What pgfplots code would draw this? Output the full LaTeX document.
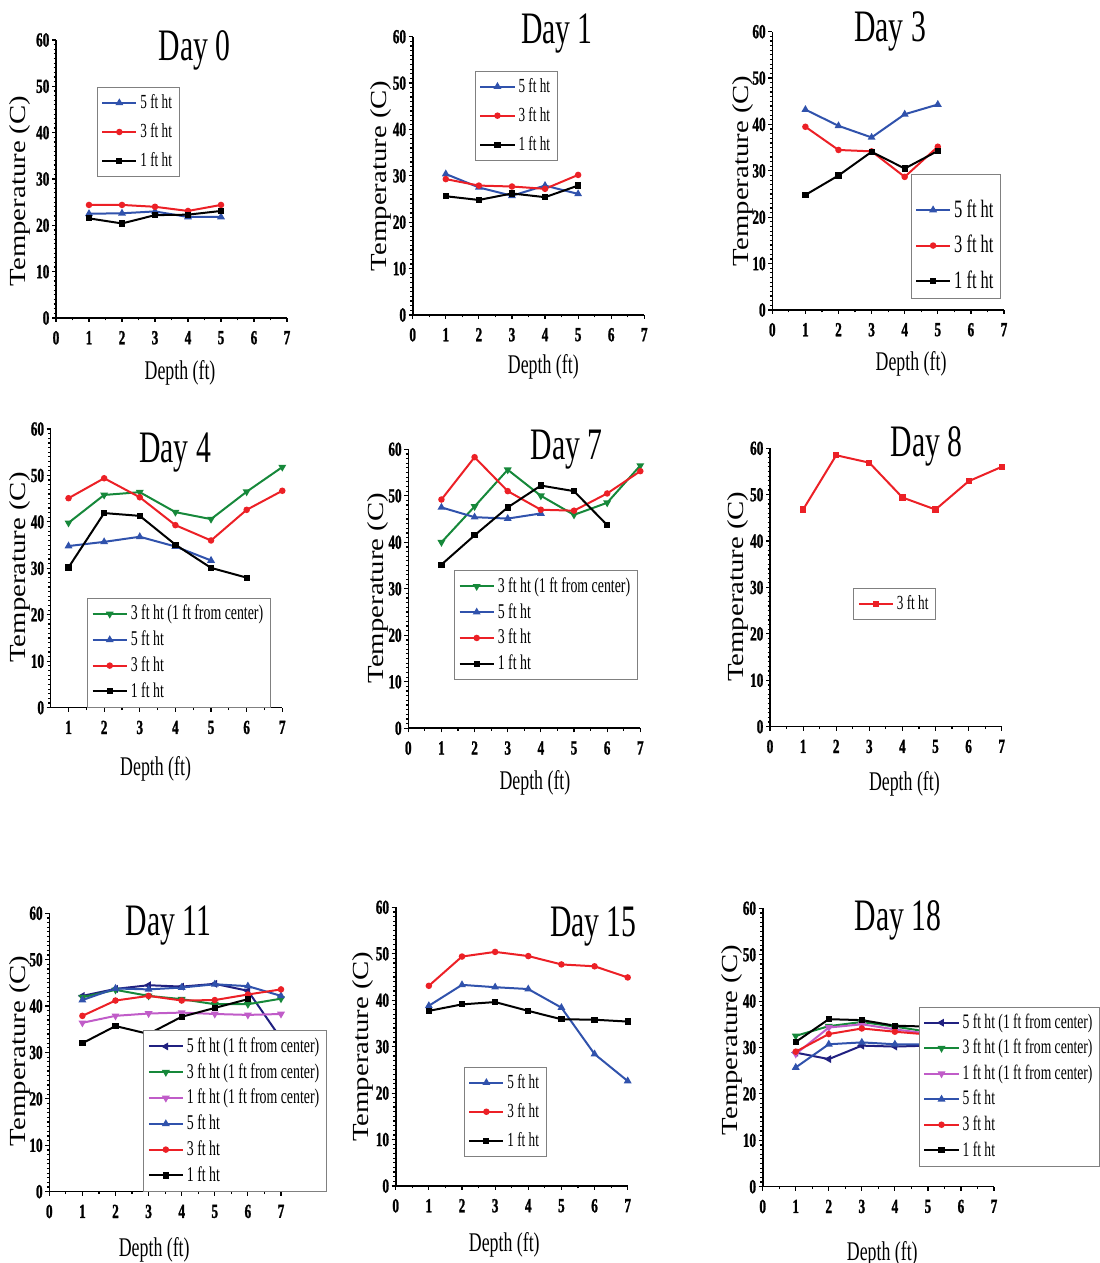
\documentclass[border=0pt]{standalone}
\usepackage{fontspec}
\setmainfont{Liberation Serif}
\newfontfamily\cond{Liberation Serif}[FakeStretch=0.66]
\newfontfamily\tickf{Liberation Serif Bold}[FakeStretch=0.66, FakeBold=1.2]
\newfontfamily\wide{Liberation Serif}[FakeStretch=1.25]
\usepackage{pgfplots}
\pgfplotsset{compat=1.18}
\definecolor{cblue}{RGB}{48,82,172}
\definecolor{cred}{RGB}{236,32,38}
\definecolor{cgreen}{RGB}{22,136,58}
\definecolor{cnavy}{RGB}{32,32,128}
\definecolor{cmag}{RGB}{192,92,200}
\pgfplotsset{
  panel/.style={
    scale only axis, clip=false,
    axis lines=left, axis line style={-, line width=0.8pt},
    xmin=0, xmax=7, ymin=0, ymax=60,
    xtick={0,...,7}, ytick={0,10,...,60},
    minor x tick num=1, minor y tick num=9,
    tick align=outside, major tick length=2pt, minor tick length=1.2pt,
    tick style={black, line width=0.6pt},
    ticklabel style={font=\tickf\fontsize{10}{10}\selectfont},
    xticklabel style={yshift=-1pt},
    yticklabel style={xshift=2.2pt},
    /pgf/number format/assume math mode=true,
    xlabel={Depth (ft)}, ylabel={Temperature (C)},
    xlabel style={font=\cond\fontsize{13.5}{14}\selectfont, anchor=north, inner sep=0pt},
    ylabel style={font=\wide\fontsize{11.5}{12}\selectfont, anchor=center, inner sep=0pt},
    legend cell align=left,
    legend style={draw=gray, line width=0.4pt, inner sep=2pt, row sep=1pt, nodes={inner sep=1.5pt}},
    every axis plot/.append style={line width=1pt, mark size=1.3pt},
  },
  s5/.style={cblue, mark=triangle*},
  s3/.style={cred, mark=*, mark size=1.1pt},
  s1/.style={black, mark=square*, mark size=1.05pt},
  s3c/.style={cgreen, mark=triangle*, mark options={rotate=180}},
  s5c/.style={cnavy, mark=triangle*, mark options={rotate=90}},
  s1c/.style={cmag, mark=triangle*, mark options={rotate=180}},
}
\newcommand{\ttl}[3]{\node[font=\cond\fontsize{22.5}{22.5}\selectfont, anchor=base, inner sep=0pt] at (rel axis cs:#1,#2) {#3};}
\begin{document}
\begin{tikzpicture}
\useasboundingbox (0,0) rectangle (549.5pt,631.5pt);
% ---------- Day 0
\begin{axis}[panel, at={(28pt,472.5pt)}, anchor=south west, width=115.5pt, height=139pt,
  xlabel style={at={(axis description cs:0.537,0)}, yshift=-21pt},
  ylabel style={at={(axis description cs:-0.156,0.457)}},
  legend style={at={(0.177,0.831)}, anchor=north west, row sep=3pt, font=\cond\fontsize{10}{11}\selectfont}]
\addplot[s5] coordinates {(1,22.5)(2,22.6)(3,23.0)(4,21.8)(5,21.8)}; \addlegendentry{5 ft ht}
\addplot[s3] coordinates {(1,24.4)(2,24.4)(3,24.0)(4,23.1)(5,24.4)}; \addlegendentry{3 ft ht}
\addplot[s1] coordinates {(1,21.5)(2,20.4)(3,22.2)(4,22.3)(5,23.1)}; \addlegendentry{1 ft ht}
\ttl{0.60}{0.928}{Day 0}
\end{axis}
% ---------- Day 1
\begin{axis}[panel, at={(206.35pt,474pt)}, anchor=south west, width=115.8pt, height=139.15pt,
  xlabel style={at={(axis description cs:0.564,0)}, yshift=-19.5pt},
  ylabel style={at={(axis description cs:-0.138,0.50)}},
  legend style={at={(0.269,0.878)}, anchor=north west, row sep=3pt, font=\cond\fontsize{10}{11}\selectfont}]
\addplot[s5] coordinates {(1,30.4)(2,27.5)(3,25.7)(4,27.9)(5,26.1)}; \addlegendentry{5 ft ht}
\addplot[s3] coordinates {(1,29.3)(2,27.9)(3,27.7)(4,27.2)(5,30.2)}; \addlegendentry{3 ft ht}
\addplot[s1] coordinates {(1,25.6)(2,24.8)(3,26.2)(4,25.4)(5,27.9)}; \addlegendentry{1 ft ht}
\ttl{0.623}{0.976}{Day 1}
\end{axis}
% ---------- Day 3
\begin{axis}[panel, at={(386.15pt,476.5pt)}, anchor=south west, width=115.85pt, height=139.15pt,
  xlabel style={at={(axis description cs:0.599,0)}, yshift=-20.5pt},
  ylabel style={at={(axis description cs:-0.125,0.50)}},
  legend style={at={(0.597,0.04)}, anchor=south west, font=\cond\fontsize{12.5}{13}\selectfont, row sep=4.5pt}]
\addlegendimage{empty legend}\addlegendentry{}
\addplot[s5] coordinates {(1,43.2)(2,39.7)(3,37.2)(4,42.2)(5,44.3)}; \addlegendentry{5 ft ht}
\addplot[s3] coordinates {(1,39.5)(2,34.5)(3,34.2)(4,28.7)(5,35.2)}; \addlegendentry{3 ft ht}
\addplot[s1] coordinates {(1,24.8)(2,29.0)(3,34.1)(4,30.5)(5,34.3)}; \addlegendentry{1 ft ht}
\ttl{0.508}{0.964}{Day 3}
\end{axis}
% ---------- Day 4
\begin{axis}[panel, at={(25.35pt,277.65pt)}, anchor=south west, width=115.8pt, height=139.35pt,
  xmin=0.5, xtick={1,...,7},
  xlabel style={at={(axis description cs:0.453,0)}, yshift=-24pt},
  ylabel style={at={(axis description cs:-0.133,0.503)}},
  legend style={at={(0.158,0.0)}, anchor=south west, font=\cond\fontsize{10.5}{11.5}\selectfont}]
\addplot[s3c] coordinates {(1,39.8)(2,45.8)(3,46.4)(4,42.1)(5,40.6)(6,46.5)(7,51.8)}; \addlegendentry{3 ft ht (1 ft from center)}
\addplot[s5] coordinates {(1,34.8)(2,35.7)(3,36.8)(4,34.7)(5,31.7)}; \addlegendentry{5 ft ht}
\addplot[s3] coordinates {(1,45.1)(2,49.4)(3,45.3)(4,39.3)(5,36.0)(6,42.6)(7,46.7)}; \addlegendentry{3 ft ht}
\addplot[s1] coordinates {(1,30.2)(2,41.9)(3,41.3)(4,35.1)(5,30.1)(6,28.0)}; \addlegendentry{1 ft ht}
\ttl{0.537}{0.879}{Day 4}
\end{axis}
% ---------- Day 7
\begin{axis}[panel, at={(204.15pt,267.35pt)}, anchor=south west, width=116pt, height=139.5pt,
  xlabel style={at={(axis description cs:0.546,0)}, yshift=-21pt},
  ylabel style={at={(axis description cs:-0.129,0.502)}},
  legend style={at={(0.198,0.567)}, anchor=north west, font=\cond\fontsize{10.5}{11.5}\selectfont}]
\addplot[s3c] coordinates {(1,40.0)(2,47.7)(3,55.6)(4,50.0)(5,45.9)(6,48.5)(7,56.5)}; \addlegendentry{3 ft ht (1 ft from center)}
\addplot[s5] coordinates {(1,47.5)(2,45.4)(3,45.1)(4,46.2)}; \addlegendentry{5 ft ht}
\addplot[s3] coordinates {(1,49.2)(2,58.3)(3,51.0)(4,47.0)(5,46.8)(6,50.5)(7,55.3)}; \addlegendentry{3 ft ht}
\addplot[s1] coordinates {(1,35.2)(2,41.5)(3,47.5)(4,52.2)(5,51.0)(6,43.7)}; \addlegendentry{1 ft ht}
\ttl{0.683}{0.964}{Day 7}
\end{axis}
% ---------- Day 8
\begin{axis}[panel, at={(385pt,268.15pt)}, anchor=south west, width=115.85pt, height=139.2pt,
  xlabel style={at={(axis description cs:0.58,0)}, yshift=-22pt},
  ylabel style={at={(axis description cs:-0.137,0.503)}},
  legend style={at={(0.36,0.499)}, anchor=north west, font=\cond\fontsize{10}{11}\selectfont}]
\addplot[cred, mark=square*, mark size=1.05pt] coordinates {(1,46.8)(2,58.5)(3,56.9)(4,49.4)(5,46.8)(6,52.9)(7,56.0)}; \addlegendentry{3 ft ht}
\ttl{0.676}{0.972}{Day 8}
\end{axis}
% ---------- Day 11
\begin{axis}[panel, at={(24.65pt,35.65pt)}, anchor=south west, width=115.85pt, height=139.2pt,
  xlabel style={at={(axis description cs:0.453,0)}, yshift=-22.5pt},
  ylabel style={at={(axis description cs:-0.126,0.506)}},
  legend style={at={(0.406,0.0)}, anchor=south west, font=\cond\fontsize{10.5}{11.5}\selectfont}]
\addplot[s5c] coordinates {(1,42.2)(2,43.7)(3,44.5)(4,44.2)(5,44.8)(6,43.3)(7,33.0)}; \addlegendentry{5 ft ht (1 ft from center)}
\addplot[s3c] coordinates {(1,41.9)(2,43.5)(3,42.2)(4,41.5)(5,40.4)(6,40.4)(7,41.6)}; \addlegendentry{3 ft ht (1 ft from center)}
\addplot[s1c] coordinates {(1,36.4)(2,37.9)(3,38.4)(4,38.6)(5,38.3)(6,38.1)(7,38.3)}; \addlegendentry{1 ft ht (1 ft from center)}
\addplot[s5] coordinates {(1,41.3)(2,43.8)(3,43.6)(4,44.0)(5,44.7)(6,44.3)(7,42.2)}; \addlegendentry{5 ft ht}
\addplot[s3] coordinates {(1,37.9)(2,41.2)(3,42.2)(4,41.2)(5,41.3)(6,42.5)(7,43.6)}; \addlegendentry{3 ft ht}
\addplot[s1] coordinates {(1,32.0)(2,35.7)(3,34.0)(4,37.7)(5,39.6)(6,41.5)}; \addlegendentry{1 ft ht}
\ttl{0.514}{0.922}{Day 11}
\end{axis}
% ---------- Day 15
\begin{axis}[panel, at={(197.85pt,38.5pt)}, anchor=south west, width=116pt, height=139.35pt,
  xlabel style={at={(axis description cs:0.468,0)}, yshift=-23pt},
  ylabel style={at={(axis description cs:-0.14,0.50)}},
  legend style={at={(0.294,0.428)}, anchor=north west, row sep=3pt, font=\cond\fontsize{10}{11}\selectfont}]
\addplot[s5] coordinates {(1,38.8)(2,43.3)(3,42.8)(4,42.4)(5,38.4)(6,28.4)(7,22.6)}; \addlegendentry{5 ft ht}
\addplot[s3] coordinates {(1,43.1)(2,49.4)(3,50.4)(4,49.5)(5,47.7)(6,47.3)(7,44.9)}; \addlegendentry{3 ft ht}
\addplot[s1] coordinates {(1,37.7)(2,39.1)(3,39.6)(4,37.7)(5,35.9)(6,35.8)(7,35.4)}; \addlegendentry{1 ft ht}
\ttl{0.852}{0.895}{Day 15}
\end{axis}
% ---------- Day 18
\begin{axis}[panel, at={(381.35pt,38.15pt)}, anchor=south west, width=115.65pt, height=139.2pt,
  xlabel style={at={(axis description cs:0.517,0)}, yshift=-27pt},
  ylabel style={at={(axis description cs:-0.134,0.527)}},
  legend style={at={(0.676,0.647)}, anchor=north west, font=\cond\fontsize{10.3}{11.3}\selectfont}]
\addplot[s5c] coordinates {(1,28.9)(2,27.5)(3,30.4)(4,30.2)(5,30.4)}; \addlegendentry{5 ft ht (1 ft from center)}
\addplot[s3c] coordinates {(1,32.5)(2,34.6)(3,35.5)(4,34.5)(5,33.4)}; \addlegendentry{3 ft ht (1 ft from center)}
\addplot[s1c] coordinates {(1,28.6)(2,34.3)(3,35.0)(4,33.9)(5,33.0)}; \addlegendentry{1 ft ht (1 ft from center)}
\addplot[s5] coordinates {(1,25.7)(2,30.7)(3,31.1)(4,30.7)(5,30.7)}; \addlegendentry{5 ft ht}
\addplot[s3] coordinates {(1,29.1)(2,32.9)(3,34.1)(4,33.4)(5,32.8)}; \addlegendentry{3 ft ht}
\addplot[s1] coordinates {(1,31.2)(2,36.1)(3,35.9)(4,34.7)(5,34.5)}; \addlegendentry{1 ft ht}
\ttl{0.586}{0.922}{Day 18}
\end{axis}
\end{tikzpicture}
\end{document}
